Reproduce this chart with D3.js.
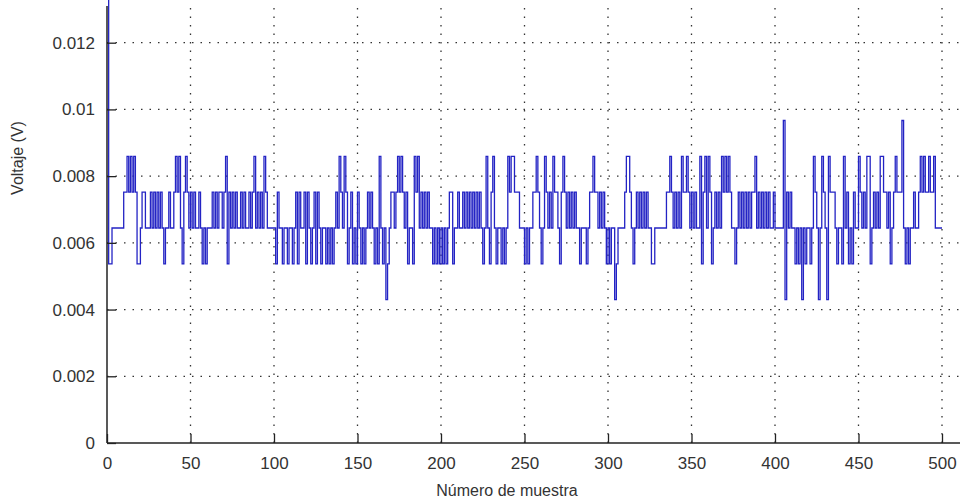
<!DOCTYPE html>
<html>
<head>
<meta charset="utf-8">
<script src="https://cdnjs.cloudflare.com/ajax/libs/d3/7.8.5/d3.min.js"></script>
<style>
  body { margin: 0; background: #fff; }
  svg text { font-family: "Liberation Sans", Arial, sans-serif; fill: #333; }
</style>
</head>
<body>
<div id="chart_div"></div>
<script>
// codigos del ADC (1 LSB = 1.1 V / 1024)
var lsb = 1.1 / 1024;
var muestras = [
  13, 5, 5, 6, 6, 6, 6, 6, 6, 6, 7, 7, 8, 7, 8, 7, 8, 7, 5, 5,
  6, 7, 7, 6, 6, 6, 7, 6, 7, 6, 7, 6, 7, 6, 5, 6, 6, 7, 6, 6,
  7, 8, 7, 8, 6, 5, 7, 8, 7, 6, 7, 6, 7, 6, 6, 7, 6, 5, 6, 5,
  6, 6, 6, 7, 6, 7, 6, 7, 7, 6, 7, 8, 5, 7, 6, 7, 6, 7, 6, 6,
  7, 6, 7, 6, 6, 7, 6, 7, 8, 6, 7, 6, 7, 6, 8, 7, 6, 6, 6, 6,
  6, 5, 7, 6, 6, 5, 6, 6, 5, 6, 6, 5, 6, 7, 5, 7, 6, 6, 7, 5,
  7, 6, 5, 6, 7, 5, 7, 6, 5, 6, 6, 5, 6, 5, 6, 5, 6, 7, 6, 8,
  7, 6, 8, 7, 5, 6, 7, 5, 6, 5, 7, 6, 5, 6, 5, 6, 7, 6, 7, 6,
  5, 6, 5, 8, 6, 5, 6, 4, 5, 6, 7, 7, 6, 7, 8, 7, 8, 7, 6, 7,
  5, 6, 6, 5, 8, 7, 8, 6, 7, 6, 7, 6, 7, 6, 6, 5, 6, 5, 6, 5,
  6, 5, 6, 5, 6, 7, 7, 5, 6, 6, 7, 6, 6, 7, 6, 7, 6, 7, 6, 7,
  6, 7, 6, 7, 6, 5, 6, 8, 6, 5, 7, 8, 6, 5, 6, 6, 5, 6, 5, 6,
  8, 7, 8, 8, 7, 7, 7, 6, 6, 6, 5, 6, 5, 6, 6, 7, 7, 8, 7, 6,
  5, 6, 8, 7, 6, 7, 6, 8, 7, 7, 6, 5, 7, 8, 7, 6, 7, 6, 7, 6,
  7, 6, 6, 5, 6, 6, 6, 5, 6, 7, 7, 8, 7, 7, 6, 7, 6, 7, 6, 5,
  6, 5, 6, 6, 4, 5, 6, 6, 6, 6, 7, 8, 8, 7, 6, 5, 6, 7, 6, 7,
  6, 7, 6, 7, 6, 6, 5, 5, 6, 6, 6, 6, 6, 6, 6, 7, 7, 8, 7, 6,
  7, 6, 7, 6, 8, 7, 7, 8, 7, 6, 7, 6, 7, 6, 6, 8, 5, 7, 8, 6,
  8, 7, 5, 6, 7, 6, 7, 6, 8, 7, 8, 7, 8, 7, 6, 6, 5, 6, 7, 6,
  7, 6, 7, 6, 7, 6, 7, 7, 8, 6, 7, 6, 7, 6, 7, 6, 7, 6, 6, 7,
  6, 6, 6, 6, 6, 9, 4, 7, 6, 7, 6, 6, 5, 6, 5, 6, 4, 6, 5, 6,
  6, 5, 6, 8, 7, 6, 4, 6, 8, 7, 6, 4, 8, 7, 7, 7, 6, 5, 6, 6,
  5, 8, 6, 7, 5, 6, 5, 7, 6, 6, 8, 7, 6, 7, 6, 8, 8, 5, 6, 7,
  6, 7, 6, 8, 8, 7, 7, 6, 7, 5, 6, 7, 8, 7, 7, 7, 9, 6, 5, 6,
  5, 6, 6, 7, 6, 6, 7, 8, 7, 8, 7, 7, 8, 7, 7, 8, 6, 6, 6, 6,
  6
];
var x_ticks = [0, 50, 100, 150, 200, 250, 300, 350, 400, 450, 500];
var y_ticks = [0, 0.002, 0.004, 0.006, 0.008, 0.01, 0.012];
var y_tick_labels = ["0", "0.002", "0.004", "0.006", "0.008", "0.01", "0.012"];
var x_titulo = "Número de muestra";
var y_titulo = "Voltaje (V)";

var width = 960, height = 501;
var m_left = 107, m_right = 942, m_top = 6, m_bottom = 443;

var svg = d3.select("#chart_div").append("svg")
    .attr("width", width)
    .attr("height", height);

var x = d3.scaleLinear().domain([0, 500]).range([m_left, m_right]);
var y = d3.scaleLinear().domain([0, 0.0131]).range([m_bottom, m_top]);

// rejilla punteada
var grid = svg.append("g");
grid.selectAll(".gx")
    .data(x_ticks.slice(1))
    .enter()
    .append("line")
    .attr("x1", function(d) { return x(d); })
    .attr("x2", function(d) { return x(d); })
    .attr("y1", m_bottom)
    .attr("y2", m_top)
    .attr("stroke", "#333")
    .attr("stroke-width", 1.3)
    .attr("stroke-dasharray", "1.5,7");
grid.selectAll(".gy")
    .data(y_ticks.slice(1))
    .enter()
    .append("line")
    .attr("x1", m_left)
    .attr("x2", width)
    .attr("y1", function(d) { return y(d); })
    .attr("y2", function(d) { return y(d); })
    .attr("stroke", "#333")
    .attr("stroke-width", 1.3)
    .attr("stroke-dasharray", "1.5,7");

// senal
svg.append("defs").append("clipPath").attr("id", "clip")
    .append("rect")
    .attr("x", m_left)
    .attr("y", 0)
    .attr("width", width - m_left)
    .attr("height", m_bottom);

var line = d3.line()
    .curve(d3.curveStepAfter)
    .x(function(d, i) { return x(i); })
    .y(function(d) { return y(d * lsb); });

svg.append("path")
    .datum(muestras)
    .attr("clip-path", "url(#clip)")
    .attr("fill", "none")
    .attr("stroke", "#2323c4")
    .attr("stroke-width", 1.3)
    .attr("d", line);

// ejes
var x_axis = d3.axisBottom(x)
    .tickValues(x_ticks)
    .tickSize(-9)
    .tickPadding(14)
    .tickFormat(d3.format("d"));
var gx = svg.append("g")
    .attr("transform", "translate(0," + m_bottom + ")")
    .call(x_axis);
gx.select(".domain").remove();
gx.append("line")
    .attr("x1", m_left)
    .attr("x2", width)
    .attr("stroke", "#222")
    .attr("stroke-width", 1.5);

var y_axis = d3.axisLeft(y)
    .tickValues(y_ticks)
    .tickSize(-9)
    .tickPadding(12)
    .tickFormat(function(d, i) { return y_tick_labels[i]; });
var gy = svg.append("g")
    .attr("transform", "translate(" + m_left + ",0)")
    .call(y_axis);
gy.select(".domain").remove();
gy.append("line")
    .attr("y1", m_top)
    .attr("y2", m_bottom)
    .attr("stroke", "#222")
    .attr("stroke-width", 1.5);

svg.selectAll(".tick line").attr("stroke", "#222").attr("stroke-width", 1.3);
svg.selectAll(".tick text")
    .style("font-size", "17px")
    .style("font-family", "'Liberation Sans', Arial, sans-serif")
    .attr("fill", "#333");

svg.append("text")
    .attr("x", 507)
    .attr("y", 496)
    .attr("text-anchor", "middle")
    .style("font-size", "16px")
    .text(x_titulo);

svg.append("text")
    .attr("transform", "translate(23,158) rotate(-90)")
    .attr("text-anchor", "middle")
    .style("font-size", "16px")
    .text(y_titulo);
</script>
</body>
</html>
